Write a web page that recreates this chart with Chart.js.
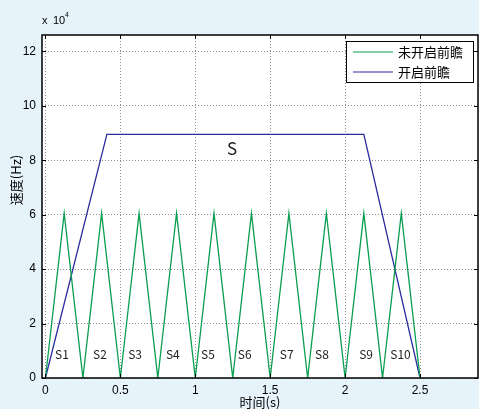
<!DOCTYPE html>
<html>
<head>
<meta charset="utf-8">
<script src="https://cdn.jsdelivr.net/npm/chart.js@4.4.0/dist/chart.umd.min.js"></script>
<style>
  body { margin: 0; background: #e6f3fb; }
  #wrap { width: 479px; height: 409px; }
</style>
</head>
<body>
<div id="wrap"><canvas id="c" width="479" height="409"></canvas></div>
<script>
// ── DATA ──
const xTicks = [0, 0.5, 1, 1.5, 2, 2.5];
const yTicks = [0, 20000, 40000, 60000, 80000, 100000, 120000];

const greenX = [0, 0.125, 0.25, 0.375, 0.5, 0.625, 0.75, 0.875, 1, 1.125, 1.25,
                1.375, 1.5, 1.625, 1.75, 1.875, 2, 2.125, 2.25, 2.375, 2.5];
const greenY = [0, 60500, 0, 60500, 0, 60500, 0, 60500, 0, 60500, 0,
                60500, 0, 60500, 0, 60500, 0, 60500, 0, 60500, 0];

const blueX = [0, 0.41, 2.125, 2.5];
const blueY = [0, 89500, 89500, 0];

const seriesNames = ['未开启前瞻', '开启前瞻'];

const noteText = ['S1', 'S2', 'S3', 'S4', 'S5', 'S6', 'S7', 'S8', 'S9', 'S10', 'S'];
const noteX = [0.11, 0.364, 0.598, 0.85, 1.085, 1.33, 1.61, 1.845, 2.14, 2.37, 1.245];
const noteY = [8500, 8500, 8500, 8500, 8500, 8500, 8500, 8500, 8500, 8500, 84300];

const GREEN = '#0a9e50';
const BLUE = '#2c2c9e';
const CJK = "'Noto Sans CJK SC', sans-serif";

const toPts = (xs, ys) => xs.map((x, i) => ({ x, y: ys[i] }));

// background, frame, inward ticks, notes, legend, axis titles
const decor = {
    id: 'decor',
    beforeDraw(chart) {
        const { ctx, chartArea: a } = chart;
        ctx.save();
        ctx.fillStyle = '#e6f3fb';
        ctx.fillRect(0, 0, chart.width, chart.height);
        ctx.fillStyle = '#ffffff';
        ctx.fillRect(a.left, a.top, a.right - a.left, a.bottom - a.top);
        ctx.restore();
    },
    afterDraw(chart) {
        const { ctx, chartArea: a, scales: { x, y } } = chart;
        ctx.save();
        // frame
        ctx.strokeStyle = '#000';
        ctx.lineWidth = 1.5;
        ctx.strokeRect(a.left, a.top, a.right - a.left, a.bottom - a.top);
        // inward ticks
        ctx.lineWidth = 1;
        ctx.beginPath();
        x.ticks.forEach(t => {
            const px = Math.round(x.getPixelForValue(t.value)) + 0.5;
            ctx.moveTo(px, a.bottom); ctx.lineTo(px, a.bottom - 4);
            ctx.moveTo(px, a.top); ctx.lineTo(px, a.top + 4);
        });
        y.ticks.forEach(t => {
            const py = Math.round(y.getPixelForValue(t.value)) + 0.5;
            ctx.moveTo(a.left, py); ctx.lineTo(a.left + 4, py);
            ctx.moveTo(a.right, py); ctx.lineTo(a.right - 4, py);
        });
        ctx.stroke();

        // notes
        ctx.fillStyle = '#222';
        ctx.textAlign = 'center';
        ctx.textBaseline = 'middle';
        noteText.forEach((s, i) => {
            ctx.font = (s === 'S' ? '17px ' : '12px ') + CJK;
            ctx.fillText(s, x.getPixelForValue(noteX[i]), y.getPixelForValue(noteY[i]));
        });

        // exponent
        ctx.textAlign = 'left';
        ctx.fillStyle = '#000';
        ctx.font = "11px 'Liberation Sans', sans-serif";
        ctx.fillText('x', 42, 21);
        ctx.fillText('10', 53, 21);
        ctx.font = "7px 'Liberation Sans', sans-serif";
        ctx.fillText('4', 65, 15);

        // axis titles
        ctx.font = '13px ' + CJK;
        ctx.textAlign = 'center';
        ctx.fillText('时间(s)', (a.left + a.right) / 2, 402);
        ctx.save();
        ctx.translate(16, 180);
        ctx.rotate(-Math.PI / 2);
        ctx.fillText('速度(Hz)', 0, 0);
        ctx.restore();

        // legend
        const lx = 346, ly = 41, lw = 127, lh = 41;
        ctx.fillStyle = '#fff';
        ctx.fillRect(lx, ly, lw, lh);
        ctx.strokeStyle = '#000';
        ctx.lineWidth = 1;
        ctx.strokeRect(lx + 0.5, ly + 0.5, lw, lh);
        chart.data.datasets.forEach((ds, i) => {
            const yy = ly + 11 + i * 20;
            ctx.strokeStyle = ds.borderColor;
            ctx.lineWidth = 1.2;
            ctx.beginPath();
            ctx.moveTo(353, yy); ctx.lineTo(393, yy);
            ctx.stroke();
            ctx.fillStyle = '#000';
            ctx.textAlign = 'left';
            ctx.font = '13px ' + CJK;
            ctx.fillText(ds.label, 398, yy);
        });
        ctx.restore();
    }
};

new Chart(document.getElementById('c'), {
    type: 'line',
    data: {
        datasets: [
            { label: seriesNames[0], data: toPts(greenX, greenY), borderColor: GREEN, borderWidth: 1.3, pointRadius: 0, tension: 0 },
            { label: seriesNames[1], data: toPts(blueX, blueY), borderColor: BLUE, borderWidth: 1.3, pointRadius: 0, tension: 0 },
        ]
    },
    options: {
        responsive: false,
        animation: false,
        events: [],
        layout: { padding: { top: 35, right: 1, left: 0, bottom: 0 } },
        plugins: { legend: { display: false }, tooltip: { enabled: false } },
        scales: {
            x: {
                type: 'linear', min: -0.023, max: 2.887,
                afterBuildTicks: s => { s.ticks = xTicks.map(v => ({ value: v })); },
                afterFit: s => { s.height = 31; },
                grid: { color: '#8c8c8c', drawTicks: false },
                border: { display: false, dash: [1, 2] },
                ticks: { color: '#000', padding: 5, font: { family: "'Liberation Sans', sans-serif", size: 12 }, callback: v => String(v) }
            },
            y: {
                min: 0, max: 126000,
                afterBuildTicks: s => { s.ticks = yTicks.map(v => ({ value: v })); },
                afterFit: s => { s.width = 42; },
                grid: { color: '#8c8c8c', drawTicks: false },
                border: { display: false, dash: [1, 2] },
                ticks: { color: '#000', padding: 6, font: { family: "'Liberation Sans', sans-serif", size: 12 }, callback: v => String(v / 10000) }
            }
        }
    },
    plugins: [decor]
});
</script>
</body>
</html>
